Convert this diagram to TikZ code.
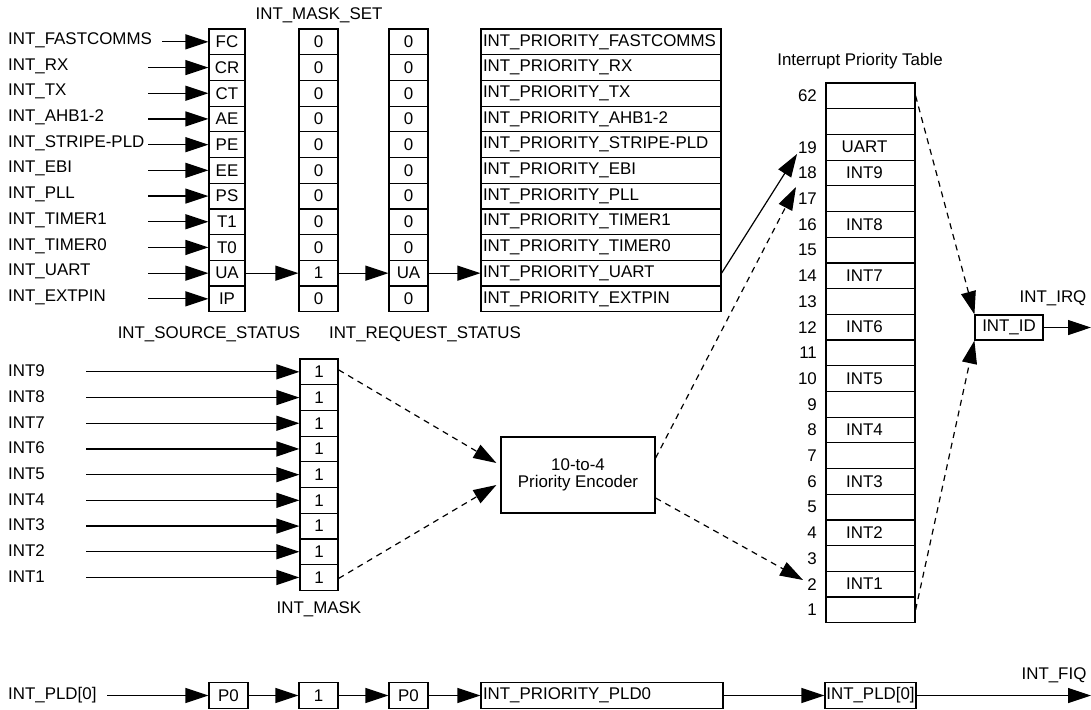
\documentclass[tikz,border=0pt]{standalone}
\usepackage{fontspec}
\setmainfont{Liberation Sans}
\usetikzlibrary{arrows.meta}
\begin{document}
\begin{tikzpicture}[x=1pt,y=-1pt,
  every node/.style={font=\fontsize{16.9}{17.5}\selectfont, inner sep=0pt},
  cell/.style={draw, line width=1.2pt, minimum height=25.7pt, inner sep=0pt},
  lbl/.style={anchor=west},
  arr/.style={-{Triangle[length=23pt,width=15pt]}, line width=1.2pt},
  darr/.style={arr, dash pattern=on 6pt off 5pt},
]
\useasboundingbox (0,0) rectangle (1091,709);

% ---- top register section ----
\foreach \nm/\sc/\ms/\rq [count=\i from 0] in {FASTCOMMS/FC/0/0, RX/CR/0/0, TX/CT/0/0, AHB1-2/AE/0/0, STRIPE-PLD/PE/0/0, EBI/EE/0/0, PLL/PS/0/0, TIMER1/T1/0/0, TIMER0/T0/0/0, UART/UA/1/UA, EXTPIN/IP/0/0} {
  \pgfmathsetmacro\yy{29+25.7*(\i+0.5)}
  \pgfmathsetmacro\ax{\i==0 ? 162 : 148}
  \node[lbl] (L\i) at (8,\yy-1.5) {INT\_\nm};
  \node[cell, minimum width=36pt] (S\i) at (227,\yy) {\sc};
  \node[cell, minimum width=39pt] (M\i) at (318.5,\yy) {\ms};
  \node[cell, minimum width=39pt] (R\i) at (408.5,\yy) {\rq};
  \node[cell, text width=236pt, align=left, inner xsep=2pt] (P\i) at (601,\yy) {INT\_PRIORITY\_\nm};
  \coordinate (A\i) at (\ax,\yy);
  \draw[arr] (A\i) -- (S\i);
}
\draw[arr] (S9) -- (M9);
\draw[arr] (M9) -- (R9);
\draw[arr] (R9) -- (P9);

\node (msl) at (319,15) {INT\_MASK\_SET};
\node (ssl) at (209,334) {INT\_SOURCE\_STATUS};
\node (rsl) at (425,334) {INT\_REQUEST\_STATUS};

% ---- INT mask section ----
\foreach \k [count=\j from 0] in {9,8,7,6,5,4,3,2,1} {
  \pgfmathsetmacro\yy{359+25.7*(\j+0.5)}
  \node[lbl] (I\k) at (8,\yy-1) {INT\k};
  \node[cell, minimum width=38pt] (K\k) at (319,\yy) {1};
  \coordinate (Q\k) at (86,\yy);
  \draw[arr] (Q\k) -- (K\k);
}
\node (mkl) at (319,609) {INT\_MASK};

\node[draw, line width=1.2pt, minimum width=154pt, minimum height=76pt, align=center] (enc) at (578,475) {10-to-4\\Priority Encoder};
\draw[darr] ([yshift=2pt]K9.east) -- ([xshift=-4pt,yshift=12pt]enc.west);
\draw[darr] ([yshift=-1pt]K1.east) -- ([xshift=-4pt,yshift=-10pt]enc.west);

% ---- interrupt priority table ----
\node (tbl) at (860,61) {Interrupt Priority Table};
\foreach \lab/\txt [count=\k from 0] in {62/{}, {}/{}, 19/UART, 18/INT9, 17/{}, 16/INT8, 15/{}, 14/INT7, 13/{}, 12/INT6, 11/{}, 10/INT5, 9/{}, 8/INT4, 7/{}, 6/INT3, 5/{}, 4/INT2, 3/{}, 2/INT1, 1/{}} {
  \pgfmathsetmacro\yy{83+25.7*(\k+0.5)}
  \node[cell, minimum width=89pt] (T\k) at (870.5,\yy) {\hspace*{-12pt}\txt};
  \node[anchor=east] (N\k) at (817,\yy) {\lab};
}

\coordinate (t19) at (797,154);
\coordinate (t17) at (796,187);
\coordinate (t2) at (803,580);
\draw[arr] (P9.east) -- (t19);
\draw[darr] ([yshift=17pt]enc.east) -- (t17);
\draw[darr] ([yshift=-23pt]enc.east) -- (t2);

\node[cell, minimum width=68pt, minimum height=25pt] (id) at (1009,327.5) {INT\_ID};
\draw[darr] (T0.east) -- (id.north west);
\draw[darr] (T20.east) -- (id.south west);
\coordinate (irq) at (1091,327.5);
\draw[arr] (id) -- (irq);
\node (irqL) at (1053,298) {INT\_IRQ};

% ---- bottom FIQ chain ----
\node[lbl] (pl) at (8,695) {INT\_PLD[0]};
\coordinate (C0) at (107,695.5);
\node[cell, minimum width=39pt] (F1) at (228.5,695.5) {P0};
\node[cell, minimum width=39pt] (F2) at (318.5,695.5) {1};
\node[cell, minimum width=39pt] (F3) at (408.5,695.5) {P0};
\node[cell, text width=238pt, align=left, inner xsep=2pt] (F4) at (602,695.5) {INT\_PRIORITY\_PLD0};
\node[cell, minimum width=91pt] (F5) at (870.5,695.5) {INT\_PLD[0]};
\coordinate (fiq) at (1091,695.5);
\node (fiqL) at (1054,675) {INT\_FIQ};
\draw[arr] (C0) -- (F1);
\draw[arr] (F1) -- (F2);
\draw[arr] (F2) -- (F3);
\draw[arr] (F3) -- (F4);
\draw[arr] (F4) -- (F5);
\draw[arr] (F5) -- (fiq);
\end{tikzpicture}
\end{document}
